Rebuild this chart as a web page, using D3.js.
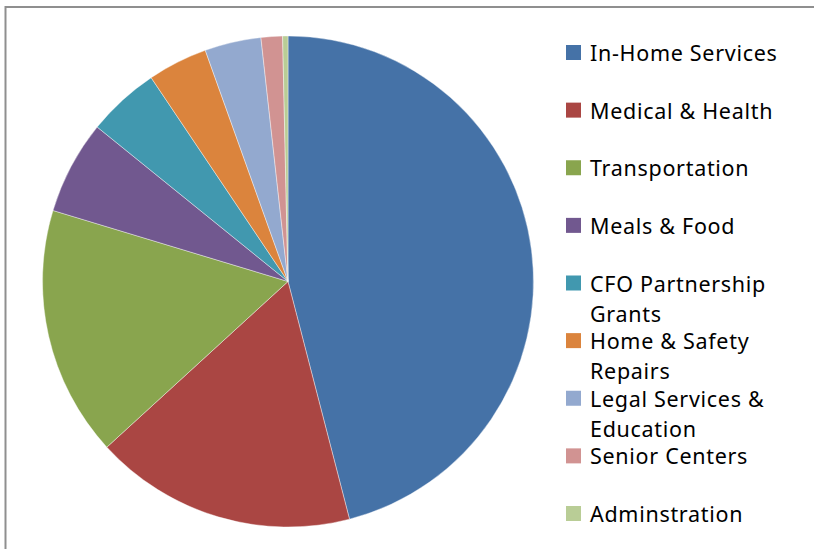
<!DOCTYPE html>
<html>
<head>
<meta charset="utf-8">
<script src="https://cdn.jsdelivr.net/npm/d3@7"></script>
<style>
  body { margin: 0; background: #fff; }
  svg { display: block; }
</style>
</head>
<body>
<svg width="814" height="549"></svg>
<script>
const width = 814;
const height = 549;

// share of budget, percent
const categories = [
    "In-Home Services",
    "Medical & Health",
    "Transportation",
    "Meals & Food",
    "CFO Partnership Grants",
    "Home & Safety Repairs",
    "Legal Services & Education",
    "Senior Centers",
    "Adminstration",
];
const values = [45.97, 17.24, 16.46, 6.16, 4.76, 3.94, 3.71, 1.41, 0.35];
const colors = ["#4572a7", "#aa4643", "#89a54e", "#71588f", "#4198af", "#db843d", "#93a9cf", "#d19392", "#b9cd96"];

const data = categories.map((c, i) => ({ name: c, value: values[i] }));

const svg = d3.select("svg");

// chart area border (runs off the right / bottom of the picture)
svg.append("rect")
    .attr("x", 5.5)
    .attr("y", 7)
    .attr("width", 830)
    .attr("height", 560)
    .attr("fill", "none")
    .attr("stroke", "#8f8f8f")
    .attr("stroke-width", 2);

const cx = 288, cy = 281.5, radius = 245.5;

const color = d3.scaleOrdinal().domain(categories).range(colors);

const pie = d3.pie().value((d) => d.value).sort(null);
const arc = d3.arc().innerRadius(0).outerRadius(radius);

svg.append("g")
    .attr("transform", `translate(${cx}, ${cy})`)
    .selectAll("path")
    .data(pie(data))
    .join("path")
    .attr("d", arc)
    .attr("fill", (d) => color(d.data.name))
    .attr("stroke", "#fff")
    .attr("stroke-width", 0.4);

// legend
const legendY = d3.scalePoint().domain(categories).range([52.5, 513.5]);
const maxTextWidth = 218;

const item = svg.append("g")
    .selectAll("g")
    .data(categories)
    .join("g")
    .attr("transform", (d) => `translate(566, ${legendY(d)})`);

item.append("rect")
    .attr("x", 0)
    .attr("y", -7.5)
    .attr("width", 15)
    .attr("height", 15)
    .attr("fill", (d) => color(d));

item.append("text")
    .attr("x", 24)
    .attr("y", 8.5)
    .attr("font-family", "Noto Sans, sans-serif")
    .attr("font-size", 21.5)
    .attr("letter-spacing", 0.7)
    .attr("fill", "#000")
    .each(function (d) {
        // wrap words like the spreadsheet legend does
        const text = d3.select(this);
        const words = d.split(" ");
        let line = [];
        let tspan = text.append("tspan").attr("x", 24).attr("dy", 0);
        words.forEach((w) => {
            line.push(w);
            tspan.text(line.join(" "));
            if (tspan.node().getComputedTextLength() > maxTextWidth && line.length > 1) {
                line.pop();
                tspan.text(line.join(" "));
                line = [w];
                tspan = text.append("tspan").attr("x", 24).attr("dy", 30).text(w);
            }
        });
    });
</script>
</body>
</html>
